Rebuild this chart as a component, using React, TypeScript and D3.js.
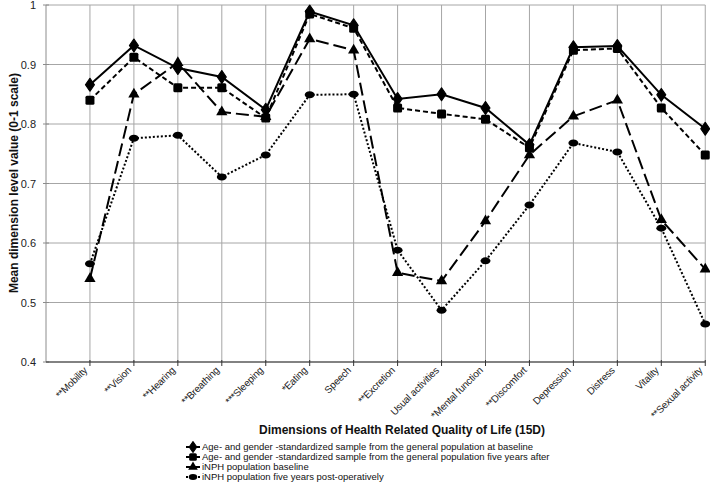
import React, { useEffect, useRef } from "react";
import * as d3 from "d3";

const categories = [
  "**Mobility",
  "**Vision",
  "**Hearing",
  "**Breathing",
  "***Sleeping",
  "*Eating",
  "Speech",
  "**Excretion",
  "Usual activities",
  "*Mental function",
  "**Discomfort",
  "Depression",
  "Distress",
  "Vitality",
  "**Sexual activity",
];

const genBaseline = [0.866, 0.932, 0.894, 0.879, 0.824, 0.989, 0.966, 0.842, 0.85, 0.827, 0.765, 0.929, 0.931, 0.849, 0.792];
const genFiveYears = [0.84, 0.912, 0.861, 0.861, 0.81, 0.985, 0.961, 0.827, 0.817, 0.808, 0.76, 0.924, 0.927, 0.827, 0.748];
const inphBaseline = [0.54, 0.85, 0.903, 0.82, 0.812, 0.943, 0.924, 0.55, 0.536, 0.637, 0.748, 0.813, 0.84, 0.639, 0.556];
const inphFiveYears = [0.565, 0.776, 0.781, 0.711, 0.748, 0.849, 0.85, 0.588, 0.487, 0.57, 0.664, 0.768, 0.753, 0.625, 0.464];

const yTicks = [0.4, 0.5, 0.6, 0.7, 0.8, 0.9, 1];

const seriesNames = [
  "Age- and gender -standardized sample from the general population at baseline",
  "Age- and gender -standardized sample from the general population five years after",
  "iNPH population baseline",
  "iNPH population five years post-operatively",
];

const App = () => {
  const ref = useRef<SVGSVGElement>(null);

  useEffect(() => {
    document.body.style.margin = "0";
    draw();
  });

  const draw = () => {
    const svg = d3.select(ref.current);
    svg.selectAll("*").remove();

    const left = 46;
    const step = 43.95;
    const top = 5;
    const bottom = 362;

    const x = (i: number) => left + (i + 1) * step;
    const y = d3.scaleLinear().domain([0.4, 1]).range([bottom, top]);
    const right = x(categories.length - 1);

    const font = "Liberation Sans, Arial, sans-serif";

    // grid
    const grid = svg.append("g");
    yTicks.forEach((t) => {
      grid
        .append("line")
        .attr("x1", left)
        .attr("x2", right)
        .attr("y1", y(t))
        .attr("y2", y(t))
        .attr("stroke", "#a6a6a6")
        .attr("stroke-width", 1);
    });
    categories.forEach((c, i) => {
      grid
        .append("line")
        .attr("x1", x(i))
        .attr("x2", x(i))
        .attr("y1", top)
        .attr("y2", bottom)
        .attr("stroke", "#a6a6a6")
        .attr("stroke-width", 1);
    });

    // y axis
    svg
      .append("line")
      .attr("x1", left)
      .attr("x2", left)
      .attr("y1", top)
      .attr("y2", bottom)
      .attr("stroke", "#8c8c8c");
    yTicks.forEach((t) => {
      svg
        .append("line")
        .attr("x1", left - 3)
        .attr("x2", left + 3)
        .attr("y1", y(t))
        .attr("y2", y(t))
        .attr("stroke", "#8c8c8c");
      svg
        .append("text")
        .attr("x", 36)
        .attr("y", y(t) + 4)
        .attr("text-anchor", "end")
        .attr("font-family", font)
        .attr("font-size", "11px")
        .attr("fill", "#222")
        .text(d3.format("~g")(t));
    });

    // x axis
    svg
      .append("line")
      .attr("x1", left)
      .attr("x2", right)
      .attr("y1", bottom)
      .attr("y2", bottom)
      .attr("stroke", "#333")
      .attr("stroke-width", 1.2);
    categories.forEach((c, i) => {
      svg
        .append("line")
        .attr("x1", x(i))
        .attr("x2", x(i))
        .attr("y1", bottom - 2)
        .attr("y2", bottom + 4)
        .attr("stroke", "#333");
      svg
        .append("text")
        .attr("transform", `translate(${x(i) - 2},${bottom + 9}) rotate(-45)`)
        .attr("text-anchor", "end")
        .attr("font-family", font)
        .attr("font-size", "10px")
        .attr("letter-spacing", "-0.2")
        .attr("fill", "#222")
        .text(c);
    });

    // titles
    svg
      .append("text")
      .attr("x", 402)
      .attr("y", 434)
      .attr("text-anchor", "middle")
      .attr("font-family", font)
      .attr("font-weight", "bold")
      .attr("font-size", "12px")
      .attr("fill", "#111")
      .text("Dimensions of Health Related Quality of Life (15D)");

    svg
      .append("text")
      .attr("transform", `translate(18,183) rotate(-90)`)
      .attr("text-anchor", "middle")
      .attr("font-family", font)
      .attr("font-weight", "bold")
      .attr("font-size", "12px")
      .attr("fill", "#111")
      .text("Mean dimension level value (0-1 scale)");

    const allSeries = [genBaseline, genFiveYears, inphBaseline, inphFiveYears];
    const dashes = ["none", "5,3", "13,5", "2,2"];
    const line = d3
      .line<number>()
      .x((d, i) => x(i))
      .y((d) => y(d));

    const marker = (g: any, k: number, cx: number, cy: number, s = 1) => {
      if (k === 0) {
        g.append("path")
          .attr("d", d3.symbol().type(d3.symbolDiamond).size(48)())
          .attr("transform", `translate(${cx},${cy}) scale(${1.2 * s},${s})`)
          .attr("fill", "#000")
          .attr("stroke", "#000")
          .attr("stroke-width", 1)
          .attr("stroke-linejoin", "round");
      } else if (k === 1) {
        g.append("rect")
          .attr("x", cx - 4.5 * s)
          .attr("y", cy - 4.5 * s)
          .attr("width", 9 * s)
          .attr("height", 9 * s)
          .attr("rx", 1.5)
          .attr("fill", "#000");
      } else if (k === 2) {
        g.append("path")
          .attr("d", d3.symbol().type(d3.symbolTriangle).size(55)())
          .attr("transform", `translate(${cx},${cy}) scale(${s})`)
          .attr("fill", "#000");
      } else {
        g.append("ellipse")
          .attr("cx", cx)
          .attr("cy", cy)
          .attr("rx", 5 * s)
          .attr("ry", 3.5 * s)
          .attr("fill", "#000");
      }
    };

    // draw back to front
    [3, 2, 1, 0].forEach((k) => {
      const g = svg.append("g");
      g.append("path")
        .attr("d", line(allSeries[k]))
        .attr("fill", "none")
        .attr("stroke", "#000")
        .attr("stroke-width", 2)
        .attr("stroke-dasharray", dashes[k]);
      allSeries[k].forEach((v, i) => marker(g, k, x(i), y(v)));
    });

    // legend
    const legend = svg.append("g");
    seriesNames.forEach((name, k) => {
      const ly = 447 + k * 10;
      legend
        .append("line")
        .attr("x1", 186)
        .attr("x2", 200)
        .attr("y1", ly)
        .attr("y2", ly)
        .attr("stroke", "#000")
        .attr("stroke-width", 2)
        .attr("stroke-dasharray", k === 3 ? "2,2" : "none");
      const mg = legend.append("g");
      marker(mg, k, 193, ly, 0.85);
      legend
        .append("text")
        .attr("x", 202)
        .attr("y", ly + 3.3)
        .attr("font-family", font)
        .attr("font-size", "9.5px")
        .attr("fill", "#111")
        .text(name);
    });
  };

  return <svg ref={ref} width={710} height={487} style={{ display: "block", background: "#fff" }} />;
};

export default App;
